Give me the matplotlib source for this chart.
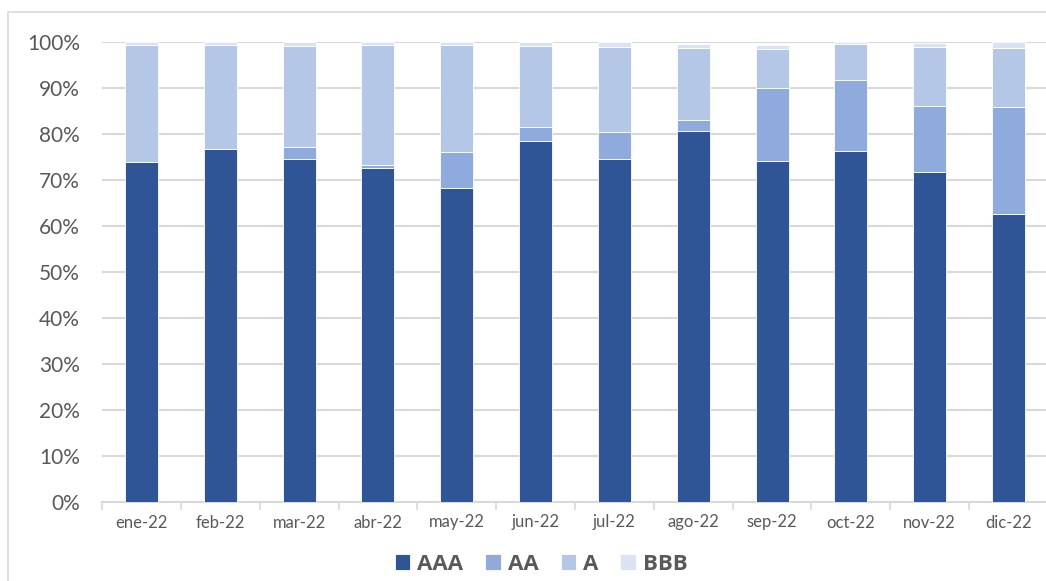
import numpy as np
import matplotlib
matplotlib.use('Agg')
import matplotlib.pyplot as plt
from matplotlib.patches import Rectangle
from matplotlib.ticker import PercentFormatter

# Datos (porcentaje de la cartera por calificacion)
meses = ['ene-22', 'feb-22', 'mar-22', 'abr-22', 'may-22', 'jun-22',
         'jul-22', 'ago-22', 'sep-22', 'oct-22', 'nov-22', 'dic-22']
aaa = [73.9, 76.7, 74.6, 72.7, 68.3, 78.4, 74.6, 80.7, 74.2, 76.2, 71.8, 62.7]
aa = [0.0, 0.0, 2.5, 0.6, 7.7, 3.1, 5.9, 2.3, 15.7, 15.6, 14.3, 23.2]
a = [25.4, 22.6, 22.1, 26.1, 23.4, 17.6, 18.5, 15.8, 8.6, 7.8, 12.8, 12.9]
bbb = [0.7, 0.7, 0.8, 0.6, 0.6, 0.8, 1.0, 0.8, 0.9, 0.4, 0.9, 1.1]

series = {'AAA': aaa, 'AA': aa, 'A': a, 'BBB': bbb}
colores = {'AAA': '#2F5597', 'AA': '#8FAADC', 'A': '#B4C7E7', 'BBB': '#DAE3F3'}

plt.rcParams['font.family'] = ['Lato', 'DejaVu Sans']
gris_texto = '#595959'
gris_linea = '#D9D9D9'

fig = plt.figure(figsize=(10.46, 5.81), dpi=100)
ax = fig.add_axes([102 / 1046, 79 / 581, 946 / 1046, 460 / 581])

# Borde del area del grafico
fig.patches.append(Rectangle((8 / 1046, -0.05), 1.1, 1 - 12 / 581 + 0.05,
                             transform=fig.transFigure, fill=False,
                             edgecolor=gris_linea, linewidth=1.2, zorder=0))

x = np.arange(len(meses))
base = np.zeros(len(meses))
for nombre, valores in series.items():
    v = np.array(valores) / 100
    ax.bar(x, v, width=0.42, bottom=base, color=colores[nombre],
           edgecolor='white', linewidth=0.6, label=nombre, zorder=3)
    base += v

ax.set_xlim(-0.5, 11.5)
ax.set_ylim(0, 1)
ax.set_yticks(np.arange(0, 1.01, 0.1))
ax.yaxis.set_major_formatter(PercentFormatter(1.0, decimals=0))
ax.grid(axis='y', color=gris_linea, linewidth=1.5, zorder=0)

ax.set_xticks(x)
ax.set_xticklabels(meses)
ax.set_xticks(np.arange(-0.5, 12, 1), minor=True)
ax.tick_params(axis='x', which='major', length=0, pad=9, labelsize=12,
               labelcolor=gris_texto)
ax.tick_params(axis='x', which='minor', length=6, width=1.2, color=gris_linea)
ax.tick_params(axis='y', length=0, pad=16, labelsize=15, labelcolor=gris_texto)

for lado in ['top', 'right', 'left']:
    ax.spines[lado].set_visible(False)
ax.spines['bottom'].set_color(gris_linea)
ax.spines['bottom'].set_linewidth(1.5)

leg = fig.legend(loc='center', bbox_to_anchor=(541 / 1046, 1 - 564 / 581),
                 ncol=4, frameon=False, handlelength=0.7, handleheight=0.7,
                 handletextpad=0.3, columnspacing=1.0,
                 prop={'family': ['Open Sans', 'DejaVu Sans'], 'size': 16,
                       'weight': 'bold'})
for t in leg.get_texts():
    t.set_color(gris_texto)

fig.savefig('out.png', dpi=100)
